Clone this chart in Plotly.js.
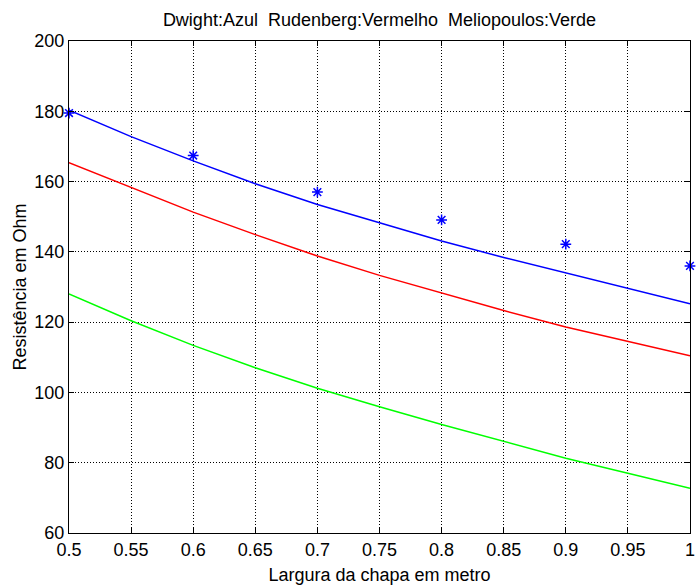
<!DOCTYPE html>
<html>
<head>
<meta charset="utf-8">
<script src="https://cdn.plot.ly/plotly-3.0.1.min.js"></script>
<style>
  html, body { margin: 0; padding: 0; background: #ffffff; }
  #chart { width: 697px; height: 585px; }
</style>
</head>
<body>
<div id="chart"></div>
<script>
// Plate width (m) and grounding resistance (Ohm) for each formula
const largura = [0.5, 0.55, 0.6, 0.65, 0.7, 0.75, 0.8, 0.85, 0.9, 0.95, 1.0];
const dwight = [180.3, 172.8, 165.9, 159.4, 153.5, 148.2, 143.1, 138.4, 134.0, 129.7, 125.2];
const rudenberg = [165.4, 158.3, 151.3, 144.9, 138.8, 133.3, 128.2, 123.3, 118.6, 114.4, 110.4];
const meliopoulos = [128.0, 120.4, 113.4, 107.0, 101.2, 95.9, 90.9, 86.2, 81.3, 77.0, 72.7];

// Measured values
const larguraMedida = [0.5, 0.6, 0.7, 0.8, 0.9, 1.0];
const medida = [179.5, 167.4, 157.0, 149.1, 142.2, 136.0];

const xTicks = [0.5, 0.55, 0.6, 0.65, 0.7, 0.75, 0.8, 0.85, 0.9, 0.95, 1];
const xTickText = ['0.5', '0.55', '0.6', '0.65', '0.7', '0.75', '0.8', '0.85', '0.9', '0.95', '1'];
const yTicks = [60, 80, 100, 120, 140, 160, 180, 200];

const FONT = 'Liberation Sans, Arial, Helvetica, sans-serif';

const traces = [
  { x: largura, y: dwight, mode: 'lines', line: { color: '#0000ff', width: 1.5 } },
  { x: largura, y: rudenberg, mode: 'lines', line: { color: '#ff0000', width: 1.5 } },
  { x: largura, y: meliopoulos, mode: 'lines', line: { color: '#00ff00', width: 1.5 } },
  {
    x: larguraMedida, y: medida, mode: 'markers', cliponaxis: false,
    marker: { symbol: 'asterisk-open', size: 9, color: '#0000ff', line: { color: '#0000ff', width: 1.5 } }
  }
];

const axisCommon = {
  showline: true, linecolor: '#000000', linewidth: 1, mirror: 'ticks',
  ticks: 'inside', ticklen: 5, tickcolor: '#000000', tickwidth: 1,
  showgrid: true, gridcolor: '#000000', gridwidth: 1, griddash: '1px,2px',
  zeroline: false, ticklabeloverflow: 'allow',
  tickfont: { family: FONT, size: 18, color: '#000000' }
};

const layout = {
  width: 697, height: 585,
  margin: { l: 69, r: 7, t: 41, b: 52 },
  paper_bgcolor: '#ffffff', plot_bgcolor: '#ffffff',
  showlegend: false,
  font: { family: FONT, size: 18, color: '#000000' },
  title: {
    text: 'Dwight:Azul  Rudenberg:Vermelho  Meliopoulos:Verde',
    font: { family: FONT, size: 18, color: '#000000' },
    xref: 'paper', x: 0.5, xanchor: 'center',
    yref: 'container', y: 1 - 20 / 585, yanchor: 'middle'
  },
  xaxis: Object.assign({}, axisCommon, {
    range: [0.5, 1.00001], tickmode: 'array', tickvals: xTicks, ticktext: xTickText,
    title: { text: 'Largura da chapa em metro', font: { family: FONT, size: 18 }, standoff: 10 }
  }),
  yaxis: Object.assign({}, axisCommon, {
    range: [60, 200], tickmode: 'array', tickvals: yTicks,
    title: { text: 'Resistência em Ohm', font: { family: FONT, size: 18 }, standoff: 3 }
  })
};

Plotly.newPlot('chart', traces, layout, { staticPlot: true, displayModeBar: false });
</script>
</body>
</html>
